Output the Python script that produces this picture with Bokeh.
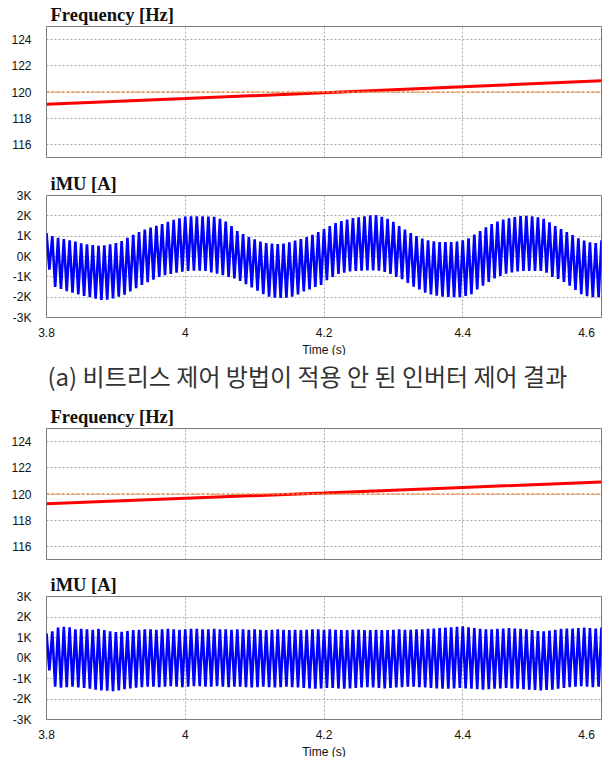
import numpy as np
from bokeh.plotting import figure
from bokeh.layouts import column
from bokeh.models import Range1d, FixedTicker, Span, Title
from bokeh.embed import file_html
from bokeh.resources import INLINE

# ---------------- data ----------------
time_ticks = [3.8, 4.0, 4.2, 4.4, 4.6]
time_tick_labels = ["3.8", "4", "4.2", "4.4", "4.6"]
freq_ticks = [116, 118, 120, 122, 124]
imu_ticks = [-3000, -2000, -1000, 0, 1000, 2000, 3000]
imu_tick_labels = ["-3K", "-2K", "-1K", "0K", "1K", "2K", "3K"]

freq_t = [3.8, 4.0, 4.2, 4.4, 4.6]
freq_a = [119.07, 119.50, 119.95, 120.40, 120.85]
freq_b = [119.25, 119.67, 120.08, 120.50, 120.92]
freq_ref = 120.0

# per-cycle positive / negative peaks of iMU, in kA
imu_a_upper = [1.15, 1.00, 0.92, 0.86, 0.80, 0.73, 0.65, 0.60, 0.56, 0.53,
               0.55, 0.60, 0.66, 0.76, 0.92, 1.07, 1.20, 1.33, 1.42, 1.51,
               1.60, 1.70, 1.80, 1.88, 1.96, 1.97, 1.98, 1.97, 1.96, 1.95,
               1.85, 1.72, 1.50, 1.25, 1.10, 0.95, 0.85, 0.74, 0.66, 0.63,
               0.61, 0.63, 0.70, 0.78, 0.86, 0.95, 1.07, 1.20, 1.35, 1.50,
               1.64, 1.74, 1.82, 1.89, 1.93, 1.98, 2.03, 2.04, 1.95, 1.85,
               1.70, 1.50, 1.32, 1.15, 1.00, 0.88, 0.80, 0.75, 0.71, 0.71,
               0.71, 0.73, 0.80, 0.90, 1.08, 1.25, 1.44, 1.60, 1.72, 1.82,
               1.88, 1.94, 1.99, 2.00, 1.98, 1.93, 1.85, 1.68, 1.50, 1.35,
               1.20, 1.05, 0.90, 0.78, 0.70, 0.66, 0.80]
imu_a_lower = [-0.65, -1.50, -1.60, -1.70, -1.78, -1.86, -1.94, -2.00, -2.08, -2.14,
               -2.12, -2.06, -1.98, -1.88, -1.72, -1.56, -1.40, -1.26, -1.14, -1.00,
               -0.92, -0.86, -0.80, -0.75, -0.71, -0.70, -0.70, -0.71, -0.78, -0.84,
               -0.92, -1.00, -1.08, -1.20, -1.36, -1.52, -1.68, -1.85, -1.98, -2.02,
               -2.04, -2.03, -1.98, -1.86, -1.72, -1.62, -1.50, -1.40, -1.16, -1.00,
               -0.86, -0.79, -0.74, -0.71, -0.70, -0.69, -0.68, -0.70, -0.76, -0.86,
               -1.00, -1.12, -1.30, -1.48, -1.62, -1.78, -1.86, -1.93, -1.98, -1.99,
               -2.00, -2.00, -1.94, -1.85, -1.62, -1.44, -1.25, -1.08, -0.96, -0.84,
               -0.78, -0.73, -0.71, -0.71, -0.71, -0.71, -0.80, -1.00, -1.10, -1.25,
               -1.44, -1.65, -1.85, -1.95, -2.00, -2.00, -1.93]
imu_b_upper = [1.20, 1.30, 1.48, 1.52, 1.50, 1.40, 1.42, 1.40, 1.38, 1.42,
               1.36, 1.30, 1.26, 1.28, 1.32, 1.36, 1.38, 1.40, 1.40, 1.38,
               1.40, 1.42, 1.40, 1.38, 1.40, 1.42, 1.42, 1.40, 1.40, 1.42,
               1.40, 1.40, 1.38, 1.40, 1.40, 1.38, 1.40, 1.38, 1.36, 1.38,
               1.40, 1.38, 1.36, 1.38, 1.36, 1.38, 1.40, 1.40, 1.38, 1.40,
               1.38, 1.36, 1.36, 1.38, 1.38, 1.36, 1.36, 1.38, 1.36, 1.36,
               1.38, 1.40, 1.38, 1.38, 1.40, 1.40, 1.42, 1.44, 1.46, 1.48,
               1.50, 1.52, 1.54, 1.50, 1.46, 1.42, 1.40, 1.40, 1.42, 1.44,
               1.46, 1.44, 1.42, 1.40, 1.36, 1.32, 1.30, 1.34, 1.38, 1.42,
               1.44, 1.44, 1.46, 1.48, 1.46, 1.44, 1.48]
imu_b_lower = [-0.60, -1.40, -1.45, -1.42, -1.40, -1.44, -1.46, -1.50, -1.55, -1.58,
               -1.60, -1.62, -1.58, -1.52, -1.48, -1.45, -1.42, -1.40, -1.40, -1.42,
               -1.40, -1.38, -1.40, -1.42, -1.40, -1.38, -1.38, -1.40, -1.40, -1.38,
               -1.40, -1.42, -1.40, -1.40, -1.42, -1.44, -1.42, -1.40, -1.42, -1.44,
               -1.42, -1.40, -1.42, -1.44, -1.46, -1.48, -1.50, -1.48, -1.46, -1.46,
               -1.48, -1.50, -1.48, -1.46, -1.44, -1.42, -1.44, -1.46, -1.48, -1.46,
               -1.44, -1.42, -1.40, -1.40, -1.42, -1.44, -1.46, -1.48, -1.50, -1.50,
               -1.48, -1.46, -1.48, -1.50, -1.52, -1.54, -1.52, -1.50, -1.48, -1.46,
               -1.48, -1.50, -1.52, -1.54, -1.56, -1.58, -1.56, -1.54, -1.50, -1.46,
               -1.42, -1.40, -1.38, -1.40, -1.42, -1.40, -1.36]

freq_title = "Frequency [Hz]"
imu_title = "iMU [A]"
x_label = "Time (s)"
caption_a = "(a) 비트리스 제어 방법이 적용 안 된 인버터 제어 결과"

# ---------------- helpers ----------------
T0, T1 = time_ticks[0], time_ticks[-1]
NBSP = "\u00a0"
W = 611


def zigzag(upper, lower):
    n = min(len(upper), len(lower))
    tu = np.linspace(T0, T1, n)
    dt = (T1 - T0) / (n - 1)
    x = np.empty(2 * n)
    y = np.empty(2 * n)
    x[0::2] = tu
    x[1::2] = tu + dt / 2
    y[0::2] = np.asarray(upper[:n]) * 1000.0
    y[1::2] = np.asarray(lower[:n]) * 1000.0
    return x, y


def base_fig(height, top, bottom, title, yr, yticks, ylabels, show_x):
    p = figure(width=W, height=height, output_backend="svg", toolbar_location=None,
               x_range=Range1d(T0, T1), y_range=Range1d(*yr),
               min_border_left=46, min_border_right=10,
               min_border_top=top, min_border_bottom=bottom, title=title)
    p.title.text_font = "Liberation Serif"
    p.title.text_font_size = "18.5px"
    p.title.text_font_style = "bold"
    p.title.text_color = "#111111"
    p.title.align = "left"
    p.title.offset = 4
    p.title.standoff = 3
    p.outline_line_color = "#7a7a7a"
    p.outline_line_width = 1
    p.background_fill_color = "white"
    p.border_fill_color = "white"

    p.xaxis.ticker = FixedTicker(ticks=time_ticks)
    p.yaxis.ticker = FixedTicker(ticks=yticks)
    xl = list(time_tick_labels)
    xl[-1] = xl[-1] + NBSP * 5
    p.xaxis.major_label_overrides = {t: l for t, l in zip(time_ticks, xl)}
    if ylabels is not None:
        p.yaxis.major_label_overrides = {t: l for t, l in zip(yticks, ylabels)}
    for ax in p.axis:
        ax.axis_line_color = None
        ax.major_tick_line_color = None
        ax.minor_tick_line_color = None
        ax.major_tick_out = 0
        ax.major_tick_in = 0
        ax.major_label_text_font = "Liberation Sans"
        ax.major_label_text_font_size = "12px"
        ax.major_label_text_color = "#111111"
    p.yaxis.major_label_standoff = 15
    p.xaxis.major_label_standoff = 8
    if show_x:
        p.add_layout(Title(text=x_label, align="center", text_font="Liberation Sans",
                           text_font_size="12px", text_font_style="normal",
                           text_color="#111111", standoff=-4), "below")
    else:
        p.xaxis.visible = False
    for g in p.grid:
        g.grid_line_color = "#a8a8a8"
        g.grid_line_dash = "2 2"
        g.grid_line_width = 1
    return p


def freq_fig(height, top, bottom, freq):
    p = base_fig(height, top, bottom, freq_title, (115, 125), freq_ticks, None, False)
    p.line(freq_t, freq, line_color="#ff0000", line_width=3)
    p.add_layout(Span(location=freq_ref, dimension="width", line_color="#f09040",
                      line_width=1.5, line_dash="3 2"))
    return p


def imu_fig(height, top, bottom, upper, lower):
    p = base_fig(height, top, bottom, imu_title, (-3000, 3000), imu_ticks, imu_tick_labels, True)
    x, y = zigzag(upper, lower)
    p.line(x, y, line_color="#0000ff", line_width=2.6)
    return p


f1 = freq_fig(170, 26, 13, freq_a)
f2 = imu_fig(185, 24, 38, imu_a_upper, imu_a_lower)

# caption panel (its frame is aligned with the plot frames by the column layout)
fc = figure(width=W, height=43, output_backend="svg", toolbar_location=None,
            x_range=Range1d(0, 1), y_range=Range1d(0, 1), min_border=0,
            x_axis_type=None, y_axis_type=None, title=caption_a)
fc.grid.visible = False
fc.outline_line_color = None
fc.title.text_font = "Noto Sans CJK KR"
fc.title.text_font_size = "24px"
fc.title.text_font_style = "normal"
fc.title.text_color = "#333333"
fc.title.align = "left"
fc.title.offset = 1
fc.title.standoff = 0
fc.scatter(x=[], y=[])

f3 = freq_fig(172, 30, 11, freq_b)
f4 = imu_fig(187, 26, 38, imu_b_upper, imu_b_lower)

layout = column(f1, f2, fc, f3, f4, spacing=0)
open("out.html", "w").write(file_html(layout, INLINE))
